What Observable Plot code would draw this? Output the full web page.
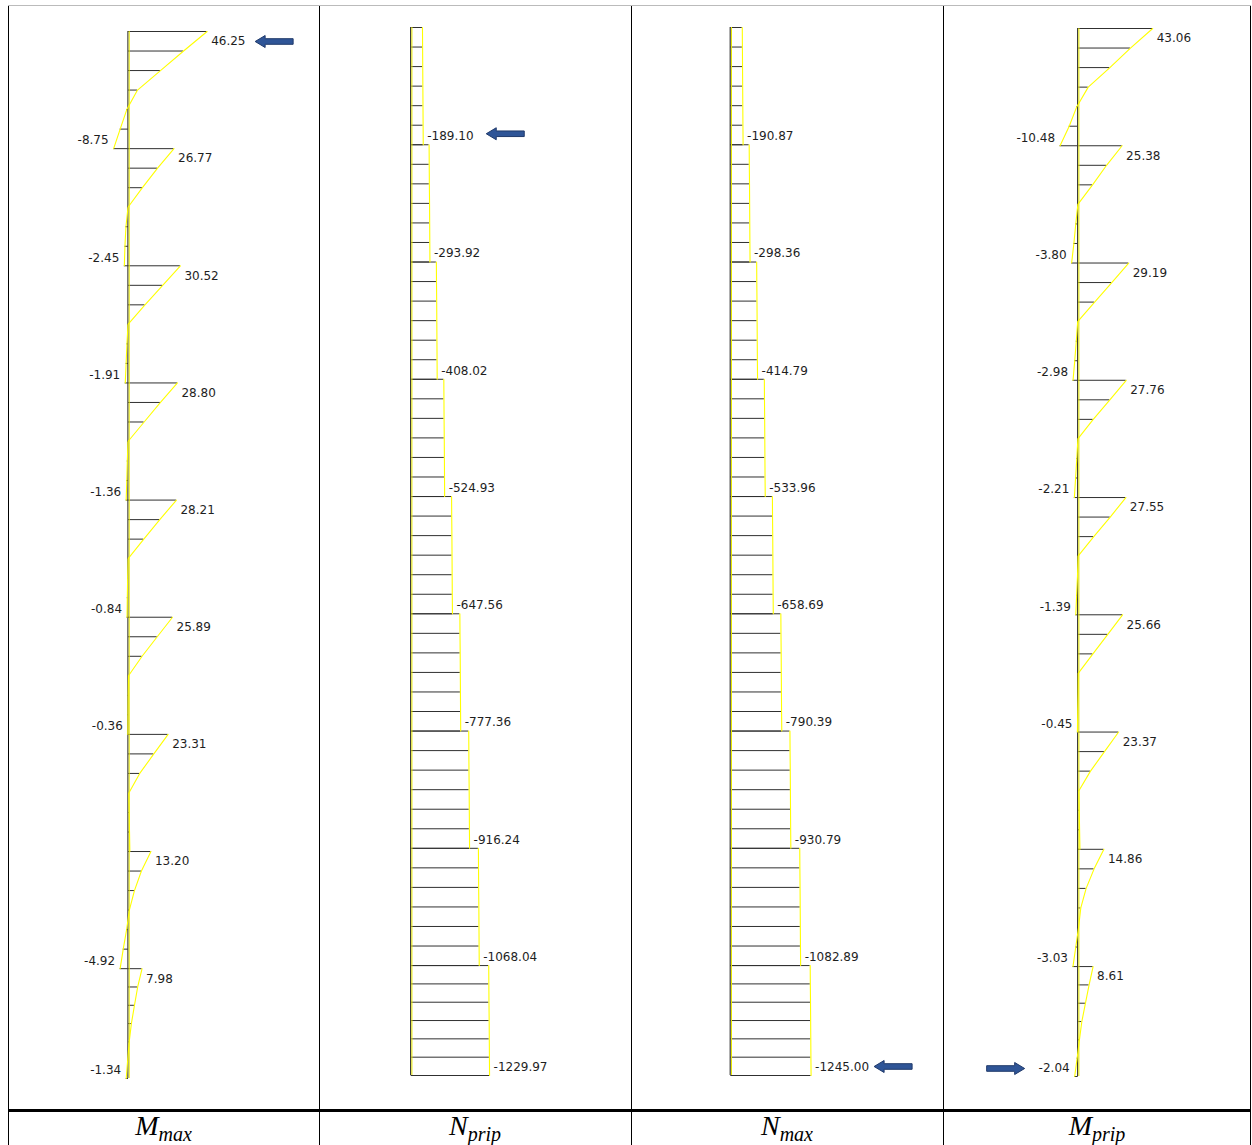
<!DOCTYPE html>
<html>
<head>
<meta charset="utf-8">
<script src="https://cdn.jsdelivr.net/npm/d3@7"></script>
<script src="https://cdn.jsdelivr.net/npm/@observablehq/plot@0.6"></script>
<style>
  html, body { margin: 0; padding: 0; background: #fff; }
  #page { position: relative; width: 1252px; height: 1145px; overflow: hidden; background: #fff; }
  .panel { position: absolute; top: 0; }
  .panel svg { overflow: visible; }
  .vline { position: absolute; top: 5px; height: 1140px; width: 1px; background: #000; }
  .hline { position: absolute; left: 8px; width: 1243px; background: #000; }
  .title { position: absolute; top: 1112px; height: 33px; line-height: 28px; text-align: center;
           font-family: "Liberation Serif", "DejaVu Serif", serif; font-style: italic; font-size: 28px; color: #000; }
  .title sub { font-size: 20px; vertical-align: -6px; }
</style>
</head>
<body>
<div id="page"></div>
<script>
// ---- data ----
const storeys = [1, 2, 3, 4, 5, 6, 7, 8, 9];             // top to bottom
const storeyHeights = [3.2, 3.2, 3.2, 3.2, 3.2, 3.2, 3.2, 3.2, 3.0]; // m
const stationsPerStorey = 7;

// bending moments, 7 stations per storey (top -> bottom)
const mMax = [
  [46.25, 32.4, 18.8, 5.3, -1.0, -4.9, -8.75],
  [26.77, 17.1, 8.2, -0.3, -1.5, -2.1, -2.45],
  [30.52, 20.1, 9.7, -0.3, -0.9, -1.4, -1.91],
  [28.80, 18.8, 9.2, -0.3, -0.7, -1.0, -1.36],
  [28.21, 18.4, 9.0, -0.2, -0.5, -0.7, -0.84],
  [25.89, 16.9, 8.0, 0.0, -0.2, -0.3, -0.36],
  [23.31, 14.9, 6.6, 0.2, 0.4, 0.6, 0.8],
  [13.20, 7.6, 3.5, 0.5, -1.1, -3.1, -4.92],
  [7.98, 5.4, 3.5, 1.7, 0.4, -0.5, -1.34]
];
const mPrip = [
  [43.06, 30.2, 18.3, 5.8, -0.8, -5.2, -10.48],
  [25.38, 16.4, 8.3, -0.2, -1.4, -2.5, -3.80],
  [29.19, 19.4, 9.5, -0.3, -1.1, -2.0, -2.98],
  [27.76, 18.3, 8.7, -0.2, -0.8, -1.5, -2.21],
  [27.55, 18.5, 9.0, -0.1, -0.4, -0.9, -1.39],
  [25.66, 17.1, 8.5, 0.0, -0.1, -0.3, -0.45],
  [23.37, 15.2, 7.1, 0.4, 0.6, 0.8, 1.0],
  [14.86, 9.2, 4.6, 1.5, 0.2, -1.4, -3.03],
  [8.61, 6.3, 4.2, 2.1, 0.7, -0.6, -2.04]
];
// axial forces, 7 stations per storey (top -> bottom)
const nPrip = [
  [-177, -179, -181, -183, -185, -187, -189.10],
  [-281, -283, -285, -288, -290, -292, -293.92],
  [-395, -397, -400, -402, -404, -406, -408.02],
  [-512, -514, -516, -519, -521, -523, -524.93],
  [-634, -636, -639, -641, -643, -645, -647.56],
  [-764, -766, -769, -771, -773, -775, -777.36],
  [-903, -905, -907, -910, -912, -914, -916.24],
  [-1055, -1057, -1059, -1062, -1064, -1066, -1068.04],
  [-1217, -1219, -1221, -1224, -1226, -1228, -1229.97]
];
const nMax = [
  [-178, -180, -182, -184, -186, -188, -190.87],
  [-285, -287, -290, -292, -294, -296, -298.36],
  [-401, -403, -406, -408, -410, -412, -414.79],
  [-520, -522, -525, -527, -529, -531, -533.96],
  [-645, -647, -650, -652, -654, -656, -658.69],
  [-776, -778, -781, -783, -785, -787, -790.39],
  [-917, -919, -922, -924, -926, -928, -930.79],
  [-1069, -1071, -1074, -1076, -1078, -1080, -1082.89],
  [-1231, -1233, -1236, -1238, -1240, -1242, -1245.00]
];
const panelTitles = [["M", "max"], ["N", "prip"], ["N", "max"], ["M", "prip"]];
// station marked with the blue arrow in each panel: [storey index, station index]
const markedStations = [[0, 0], [0, 6], [8, 6], [8, 6]];

// ---- layout ----
const page = document.getElementById("page");
const panelDefs = [
  {values: mMax, kind: "M", left: 8, width: 311, axis: 120, k: 1.70, y0: 31, y1: 1078, arrow: {dir: "left", dx: 48, dy: 10}},
  {values: nPrip, kind: "N", left: 319, width: 312, axis: 91.7, k: 0.0637, y0: 27, y1: 1075, arrow: {dir: "left", dx: 63, dy: -11}},
  {values: nMax, kind: "N", left: 631, width: 312, axis: 99.3, k: 0.0645, y0: 27, y1: 1075, arrow: {dir: "left", dx: 63, dy: -9}},
  {values: mPrip, kind: "M", left: 943, width: 308, axis: 134.7, k: 1.73, y0: 28, y1: 1076, arrow: {dir: "right", dx: -50, dy: -8}}
];

const totalHeight = d3.sum(storeyHeights);
const storeyTops = storeyHeights.map((h, i) => d3.sum(storeyHeights.slice(0, i)));

function rowsFor(values) {
  const rows = [];
  values.forEach((st, i) => {
    st.forEach((v, j) => {
      rows.push({storey: storeys[i], station: j,
        elev: storeyTops[i] + storeyHeights[i] * j / (stationsPerStorey - 1), value: v});
    });
  });
  return rows;
}

function arrowSymbol(dir) {
  const s = dir === "left" ? 1 : -1;
  return {
    draw(ctx) {
      ctx.moveTo(0, 0);
      ctx.lineTo(s * 10, -6);
      ctx.lineTo(s * 10, -2.8);
      ctx.lineTo(s * 38, -2.8);
      ctx.lineTo(s * 38, 2.8);
      ctx.lineTo(s * 10, 2.8);
      ctx.lineTo(s * 10, 6);
      ctx.closePath();
    }
  };
}

const fmt = v => v.toFixed(2);
const labelFont = {fontSize: 12, fontFamily: "DejaVu Sans, sans-serif", fill: "#1e1e1e"};

panelDefs.forEach((p, pi) => {
  const rows = rowsFor(p.values);
  const sign = p.kind === "M" ? 1 : -1; // N (compression) drawn to the right
  const lo = sign * (-p.axis / p.k), hi = sign * ((p.width - p.axis) / p.k);
  const marks = [];
  // hatch lines
  marks.push(Plot.ruleY(rows, {y: "elev", x1: 0, x2: "value", stroke: "#303030", strokeWidth: 1}));
  // member axis
  marks.push(Plot.ruleX([0], {y1: 0, y2: totalHeight, stroke: "#3c3c3c", strokeWidth: 1.2, dx: -0.6}));
  marks.push(Plot.ruleX([0], {y1: 0, y2: totalHeight, stroke: "#e8e800", strokeWidth: 1, dx: 0.7}));
  // diagram outline
  marks.push(Plot.line(rows, {x: "value", y: "elev", z: "storey", stroke: "#ffff00", strokeWidth: 1.1}));
  // labels
  if (p.kind === "M") {
    const tops = rows.filter(d => d.station === 0);
    const bots = rows.filter(d => d.station === stationsPerStorey - 1 && d.value < 0);
    marks.push(Plot.text(tops, {x: "value", y: "elev", text: d => fmt(d.value), dx: 4, dy: 10, textAnchor: "start", ...labelFont}));
    marks.push(Plot.text(bots, {x: "value", y: "elev", text: d => fmt(d.value), dx: -5, dy: -8, textAnchor: "end", ...labelFont}));
  } else {
    const bots = rows.filter(d => d.station === stationsPerStorey - 1);
    marks.push(Plot.text(bots, {x: "value", y: "elev", text: d => fmt(d.value), dx: 4, dy: -8.5, textAnchor: "start", ...labelFont}));
  }
  // blue arrow marking the governing value
  const [si, sj] = markedStations[pi];
  const marked = rows.filter(d => d.storey === storeys[si] && d.station === sj);
  marks.push(Plot.dot(marked, {x: "value", y: "elev", r: 5, symbol: arrowSymbol(p.arrow.dir),
    dx: p.arrow.dx, dy: p.arrow.dy, fill: "#2f5597", stroke: "#203a6b", strokeWidth: 1}));

  const chart = Plot.plot({
    width: p.width,
    height: 1110,
    margin: 0,
    x: {type: "linear", domain: [lo, hi], range: [0, p.width], axis: null},
    y: {type: "linear", domain: [0, totalHeight], range: [p.y0, p.y1], axis: null},
    style: {background: "transparent", overflow: "visible"},
    marks
  });
  const holder = document.createElement("div");
  holder.className = "panel";
  holder.style.left = p.left + "px";
  holder.appendChild(chart);
  page.appendChild(holder);

  const t = document.createElement("div");
  t.className = "title";
  t.style.left = p.left + "px";
  t.style.width = p.width + "px";
  t.innerHTML = panelTitles[pi][0] + "<sub>" + panelTitles[pi][1] + "</sub>";
  page.appendChild(t);
});

// table rules
[8, 319, 631, 943, 1250].forEach(x => {
  const v = document.createElement("div");
  v.className = "vline";
  v.style.left = x + "px";
  page.appendChild(v);
});
const topRule = document.createElement("div");
topRule.className = "hline"; topRule.style.top = "5px"; topRule.style.height = "1px"; topRule.style.background = "#bbb";
page.appendChild(topRule);
const midRule = document.createElement("div");
midRule.className = "hline"; midRule.style.top = "1109px"; midRule.style.height = "3px";
page.appendChild(midRule);
</script>
</body>
</html>
